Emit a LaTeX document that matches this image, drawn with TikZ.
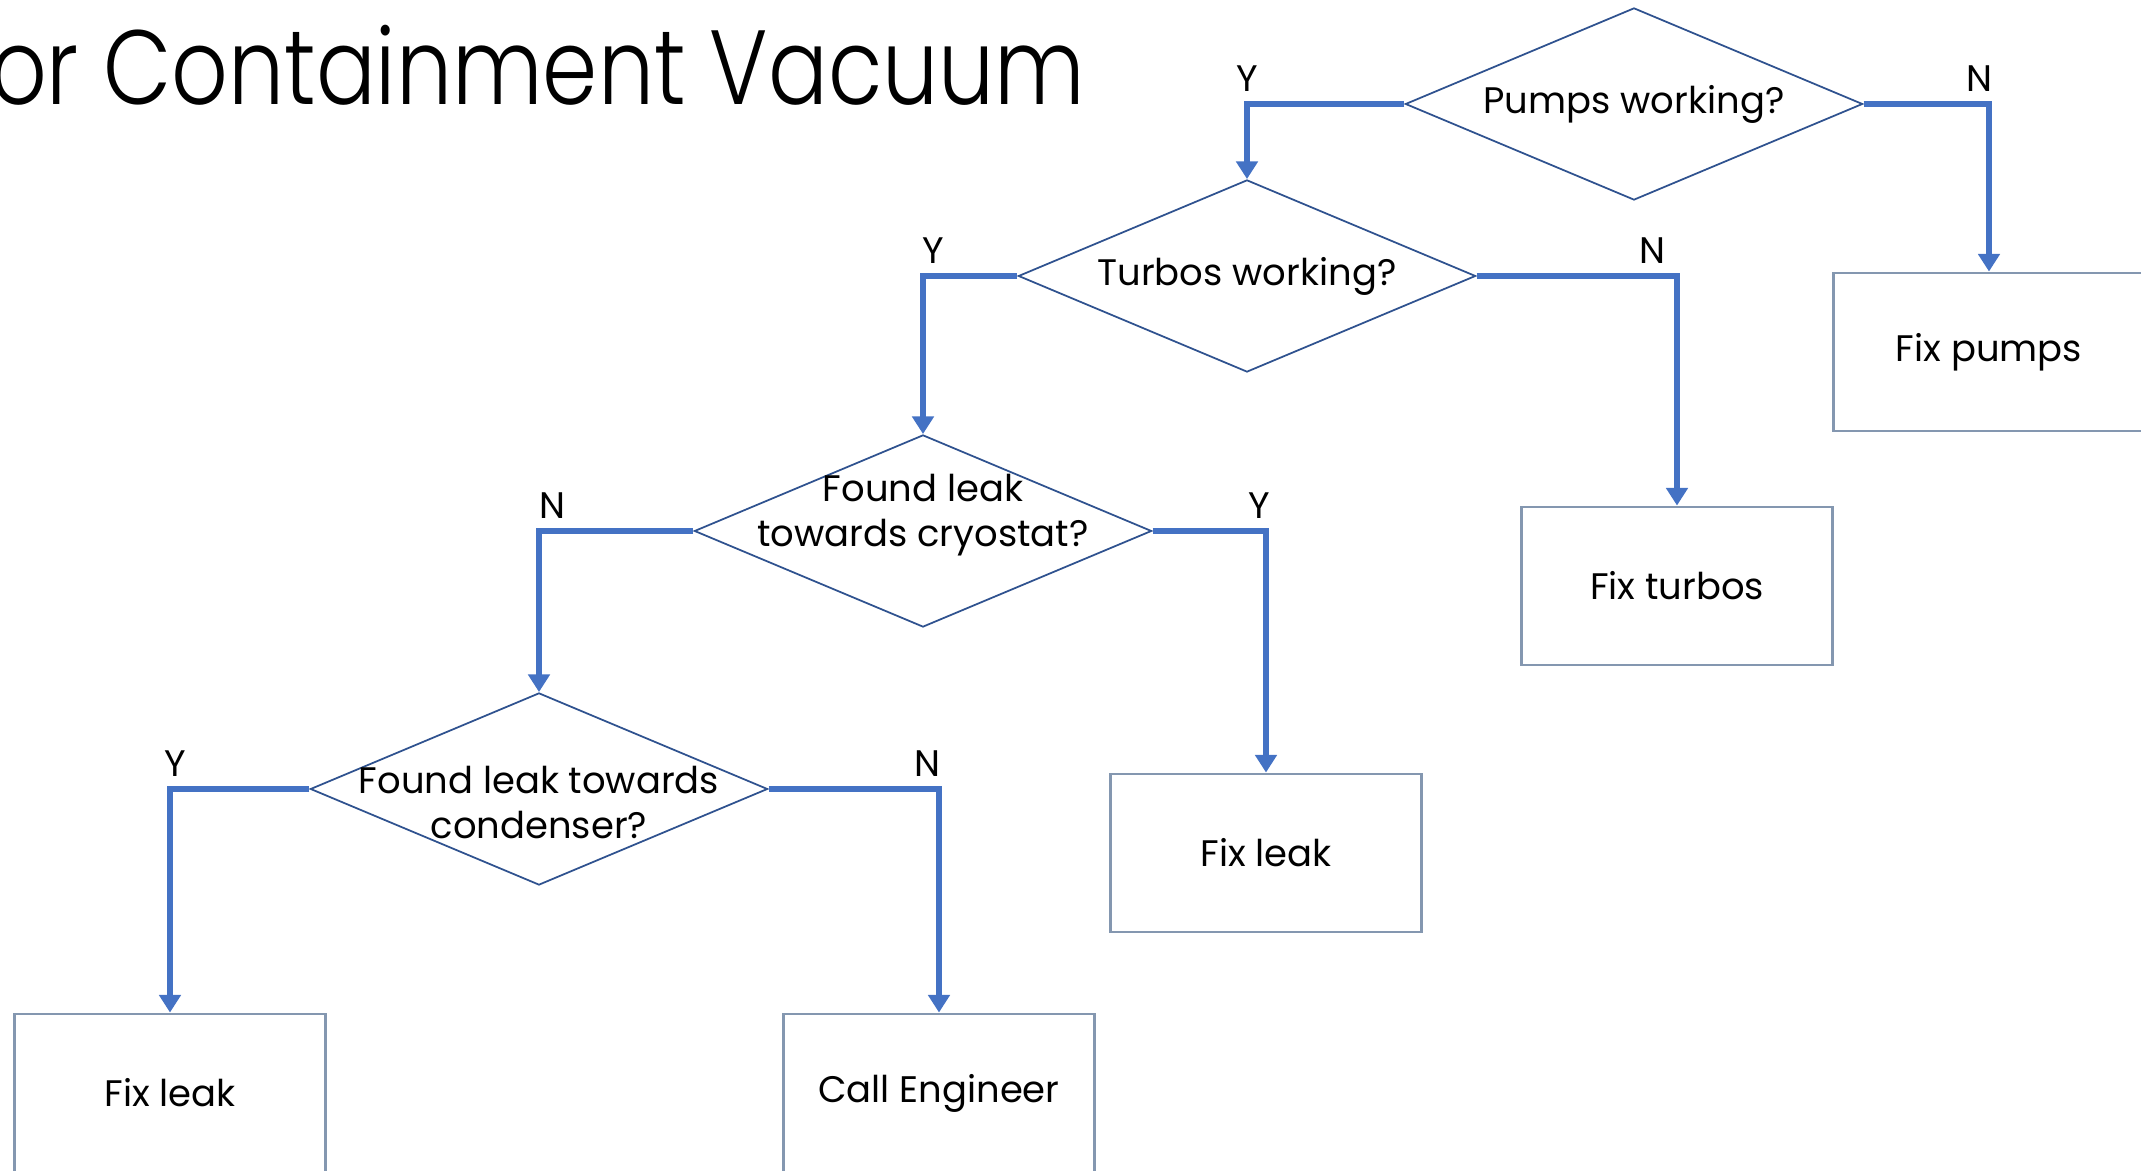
\documentclass[tikz,border=0pt]{standalone}
\usepackage{fontspec}
\setmainfont{Poppins}
\newfontfamily\titlefont[FakeStretch=0.84]{Poppins Light}
\usetikzlibrary{shapes.geometric,arrows.meta}
\definecolor{flowblue}{HTML}{4472C4}
\definecolor{diamondline}{HTML}{2F528F}
\definecolor{boxline}{HTML}{8497B0}

\tikzset{
  decision/.style={diamond, draw=diamondline, line width=0.5pt, inner sep=0pt,
    minimum width=4.57cm, minimum height=1.92cm},
  fixbox/.style={rectangle, draw=boxline, line width=0.8pt,
    minimum width=3.11cm, minimum height=1.58cm, font=\fontsize{10.5}{12.8}\selectfont},
  dtext/.style={font=\fontsize{10.5}{12.8}\selectfont, align=center, inner sep=0pt},
  flow/.style={draw=flowblue, line width=1.7pt, -{Triangle[length=5pt,width=6pt]}},
  yn/.style={font=\fontsize{10.5}{12.8}\selectfont, above=-0.5pt}
}

\begin{document}
\begin{tikzpicture}[x=0.01cm,y=-0.01cm]
  \useasboundingbox (0,0) rectangle (2141,1171);

  % title
  \node[anchor=base east, inner sep=0pt, font=\titlefont\fontsize{30}{36}\selectfont]
    (title) at (1086,105) {or Containment Vacuum};

  % decisions
  \node[decision, label={[dtext]center:Pumps working?}] (pumps) at (1634,104) {};
  \node[decision, label={[dtext]center:Turbos working?}] (turbos) at (1247,276) {};
  \node[decision, label={[dtext, yshift=0.16cm]center:Found leak\\towards cryostat?}] (cryo) at (923,531) {};
  \node[decision, label={[dtext, yshift=-0.14cm]center:Found leak towards\\condenser?}] (cond) at (539,789) {};

  % actions
  \node[fixbox] (fixpumps) at (1989,352) {Fix pumps};
  \node[fixbox] (fixturbos) at (1677,586) {Fix turbos};
  \node[fixbox] (fixleakr) at (1266,853) {Fix leak};
  \node[fixbox] (fixleakl) at (170,1093) {Fix leak};
  \node[fixbox] (callengr) at (939,1093) {Call Engineer};

  % connectors
  \draw[flow] (pumps.west) -| node[yn, pos=0.5] {Y} (turbos.north);
  \draw[flow] (pumps.east) -| node[yn, pos=0.5, xshift=-0.1cm] {N} (fixpumps.north);
  \draw[flow] (turbos.west) -| node[yn, pos=0.5, xshift=0.1cm] {Y} (cryo.north);
  \draw[flow] (turbos.east) -| node[yn, pos=0.5, xshift=-0.25cm] {N} (fixturbos.north);
  \draw[flow] (cryo.west) -| node[yn, pos=0.5, xshift=0.13cm] {N} (cond.north);
  \draw[flow] (cryo.east) -| node[yn, pos=0.5, xshift=-0.07cm] {Y} (fixleakr.north);
  \draw[flow] (cond.west) -| node[yn, pos=0.5, xshift=0.05cm] {Y} (fixleakl.north);
  \draw[flow] (cond.east) -| node[yn, pos=0.5, xshift=-0.12cm] {N} (callengr.north);
\end{tikzpicture}
\end{document}
